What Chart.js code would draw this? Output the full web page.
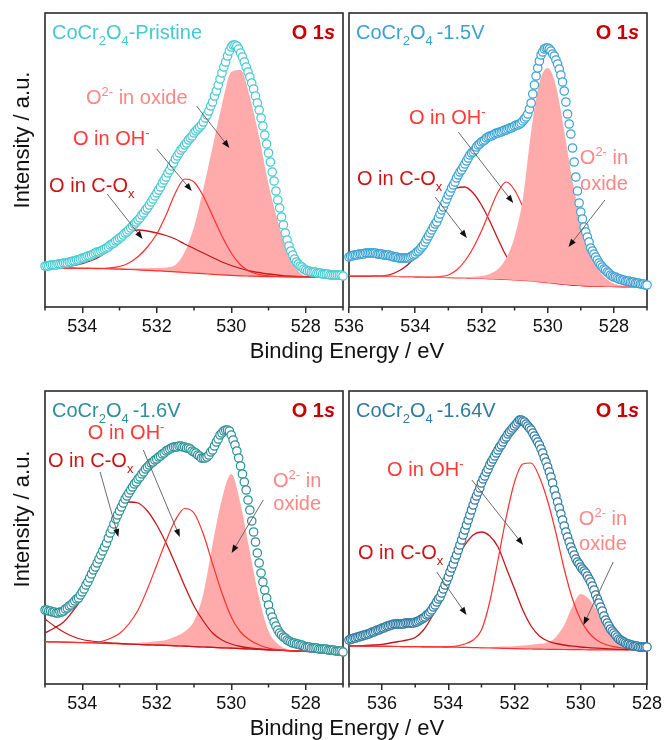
<!DOCTYPE html>
<html>
<head>
<meta charset="utf-8">
<title>O 1s XPS of CoCr2O4</title>
<script src="https://cdn.jsdelivr.net/npm/chart.js@4.4.1/dist/chart.umd.min.js"></script>
<style>
  body { margin: 0; background: #fff; }
  #wrap { position: relative; width: 666px; height: 740px; overflow: hidden;
          font-family: 'Liberation Sans', Arial, Helvetica, sans-serif; color: #111; }
  #wrap canvas { position: absolute; left: 0; top: 0; }
  .xt { position: absolute; left: 347px; transform: translateX(-50%); font-size: 22px;
        line-height: 22px; white-space: nowrap; }
  .yt { position: absolute; left: 22px; transform: translate(-50%, -50%) rotate(-90deg);
        font-size: 22px; line-height: 22px; white-space: nowrap; }
</style>
</head>
<body>
<div id="wrap">
  <canvas id="tl" width="666" height="740"></canvas>
  <canvas id="tr" width="666" height="740"></canvas>
  <canvas id="bl" width="666" height="740"></canvas>
  <canvas id="br" width="666" height="740"></canvas>
  <div class="xt" style="top:340px">Binding Energy / eV</div>
  <div class="xt" style="top:717px">Binding Energy / eV</div>
  <div class="yt" style="top:140px">Intensity / a.u.</div>
  <div class="yt" style="top:519px">Intensity / a.u.</div>
</div>
<script>
// measured spectra: one value every 0.05 eV, starting at the high binding-energy end
// fitted components: one value every 0.25 eV over the same range
const DATA_STEP = 0.05;
const FIT_STEP = 0.25;

// --- pristine, 535 -> 527 eV
const tlCounts = [41,41,41,42,42,42,42,43,43,43,44,44,44,45,45,46,46,47,47,48,49,49,50,51,51,52,53,54,55,55,56,57,58,59,60,62,63,64,66,67,69,
  70,72,74,75,77,79,81,83,85,87,89,92,94,97,99,102,105,108,111,114,117,120,124,127,130,134,137,141,144,148,151,154,157,159,162,164,167,169,171,174,
  176,178,180,182,185,189,192,196,201,205,211,216,222,228,234,240,245,251,256,260,262,262,261,258,254,250,245,240,235,230,224,218,211,204,197,189,181,172,163,154,
  145,135,126,116,107,99,90,82,74,67,61,56,52,48,45,43,41,40,38,37,36,36,35,35,35,34,34,34,33,33,33,33,32,32,32,32,32,32,32,31];
const tlBg = [39,39,38.9,38.8,38.7,38.5,38.3,38.1,37.8,37.5,37.1,36.7,36.2,35.7,35.1,34.5,33.9,33.3,32.7,32.1,31.6,31.2,30.9,30.6,30.4,30.3,30.2,30.1,30.1,30,30,30,30];
const tlCox = [39,39.2,40,41.5,43.5,46.5,51,58.5,66,74.5,77,76,74,71.5,68,63,58.5,54,49.5,45,41.5,38.5,36,34.5,33,32,31,30.5,30.3,30.1,30,30,30];
const tlOh = [39,39,38.9,38.8,38.7,38.6,38.6,39.2,40.5,44,50.5,60,73,92,114,128,125,111,91,71,54,42,35.5,32.5,31.2,30.6,30.3,30.1,30.1,30,30,30,30];
const tlOxide = [39.5,39.5,39.5,39.4,39.3,39.2,39.1,39,38.9,38.8,38.8,38.8,38.9,39.5,42,55,80,118,160,202,235,237,210,170,123,86,56,38,31,30.3,30,30,30];
const tlTicks = [534, 532, 530, 528];

// --- -1.5 V, 536 -> 527 eV
const trCounts = [50,51,51,52,52,52,53,53,53,53,54,54,54,54,54,54,54,53,53,53,53,52,52,52,52,51,51,50,50,50,49,49,49,49,49,49,49,50,51,52,
  53,55,56,58,60,62,65,68,71,74,77,80,83,85,89,93,97,100,104,108,112,115,119,122,125,129,132,135,137,140,143,146,149,152,154,155,157,160,162,163,
  165,166,167,169,170,171,171,172,173,174,174,175,175,176,177,177,178,179,179,180,181,182,182,183,184,186,188,190,193,198,204,213,222,231,239,
  246,252,255,258,259,259,258,256,253,251,247,243,238,232,225,216,205,193,183,173,159,145,130,116,104,95,88,80,75,70,65,59,56,53,50,
  47,44,42,40,38,37,35,34,32,31,30,30,29,28,28,27,27,26,26,26,25,25,25,24,24,24,23,23,23,22,22];
const trBg = [31,31,30.9,30.8,30.7,30.6,30.5,30.4,30.2,30,29.8,29.6,29.4,29.2,29,28.8,28.5,28.2,27.9,27.5,27.1,26.6,26,25.2,24.3,23.4,22.6,22,21.5,21.1,20.8,20.6,20.5,20.4,20.3,20.3,20.3];
const trCox = [31,31,31,31,31.2,32.5,36,41.5,50,62,80,98,112,119,120,114,102,86,68,51,40,33,29,26.5,25,23.8,22.8,22,21.5,21.1,20.8,20.6,20.5,20.4,20.3,20.3,20.3];
const trOh = [31,31,30.9,30.8,30.7,30.6,30.5,30.4,30.2,30,30,30.5,32,37,46,59,76,96,115,125,117,100,78,55,38,29,24.5,22.5,21.6,21.1,20.8,20.6,20.5,20.4,20.3,20.3,20.3];
const trOxide = [31.5,31.5,31.4,31.3,31.2,31.1,31,30.9,30.8,30.6,30.4,30.2,30,29.9,29.9,30.2,31,33,38,49,70,108,175,224,239,221,176,126,86,57,39,29,23.5,21.5,20.7,20.4,20.3];
const trTicks = [536, 534, 532, 530, 528];

// --- -1.6 V, 535 -> 527 eV
const blCounts = [74,74,73,73,72,72,71,71,72,72,73,75,76,78,79,81,83,85,86,89,92,95,99,102,106,110,114,117,121,125,129,133,137,141,146,151,155,160,165,169,
  173,177,181,185,188,191,194,197,200,202,205,207,210,212,215,217,219,221,222,224,225,227,228,230,231,233,234,235,236,237,237,237,238,238,237,
  237,236,236,235,233,232,231,229,228,226,226,226,227,229,232,234,238,242,245,249,251,253,254,254,253,249,244,239,233,226,218,210,202,194,184,
  174,163,152,142,131,121,111,102,94,86,79,72,67,62,58,54,51,49,47,46,44,43,42,41,41,40,40,39,39,38,37,37,37,36,36,36,36,35,35,35,35,35,34,34,34,34,33,33,33,33,32];
const blBg = [42.3,42.1,41.9,41.6,41.3,41,40.7,40.4,40.1,39.8,39.5,39.2,38.9,38.6,38.2,37.8,37.4,37,36.6,36.2,35.8,35.4,35,34.6,34.2,33.8,33.4,33,32.6,32.3,32,31.6,31.3];
const blCox = [51,56,62,73,86,104,127,152,172,182,181,173,159,141,120,98,78,63,51,44,40,37.5,36,35,34.3,33.8,33.4,33,32.6,32.3,32,31.6,31.3];
const blOh = [42.3,42.1,41.9,41.7,41.5,41.5,42.5,45.5,50.5,60,74,95,119,143,164,175.5,171,150,120,91,67,52,44,39,35.8,34.3,33.6,33.1,32.6,32.3,32,31.6,31.3];
const blOxide = [42.5,42.3,42.1,41.9,41.7,41.5,41.3,41.2,41.1,41.1,41.3,41.8,42.8,44,47.5,52.5,63,90,140,185,210,180,132,86,53,40,35,33.2,32.7,32.3,32,31.6,31.3];
const blHighBE = [65,58,52,47.5,44.5,43,42,41.2,40.6,40,39.6,39.2,38.9,38.6,38.2,37.8,37.4,37,36.6,36.2,35.8,35.4,35,34.6,34.2,33.8,33.4,33,32.6,32.3,32,31.6,31.3];
const blTicks = [534, 532, 530, 528];

// --- -1.64 V, 537 -> 528 eV
const brCounts = [44,45,45,46,46,47,47,48,48,49,49,50,50,51,52,52,53,54,54,55,56,56,57,58,58,59,59,60,60,60,60,60,60,60,61,61,61,61,61,61,
  62,62,63,64,65,66,67,69,70,72,74,77,79,82,85,87,91,95,99,103,107,112,116,120,125,129,134,139,144,149,154,159,164,169,174,
  179,184,188,192,196,201,205,208,212,215,219,222,225,228,231,234,237,239,242,245,247,250,252,254,256,258,260,262,264,264,
  263,262,260,258,256,254,251,248,245,242,239,235,231,226,222,217,212,207,201,194,188,182,176,170,164,158,152,147,142,137,
  133,129,125,122,120,117,115,113,111,108,105,102,98,94,89,85,81,77,73,68,64,61,58,55,53,51,49,47,45,44,43,42,41,40,40,39,39,38,38,38,37,37,37,37,37,37];
const brBg = [38,38,37.9,37.8,37.7,37.6,37.5,37.4,37.3,37.2,37.1,37,36.9,36.8,36.6,36.4,36.2,36,35.8,35.6,35.4,35.2,35,34.8,34.7,34.6,34.5,34.4,34.3,34.2,34.2,34.1,34.1,34,34,34,34];
const brCox = [38,38.2,38.5,39,39.7,41,42.5,44,46.5,54,67,84,106,125,139,149,152,148,137,116,95,74,58,48,43,40.5,39,37.8,37,36.4,35.8,35.3,34.9,34.6,34.3,34.1,34];
const brOh = [38,38,37.9,37.8,37.7,37.6,37.5,37.4,37.3,37.2,37.1,37.1,37.2,38,40,44,54,82,124,167,202,220,221,207,183,151,115,85,64,51,43.5,39.5,37.3,36,35,34.4,34];
const brOxide = [38.5,38.5,38.4,38.3,38.2,38.1,38,37.9,37.8,37.7,37.6,37.5,37.4,37.3,37.2,37.1,37.1,37.1,37.2,37.4,37.8,38.4,39.3,40.3,41.5,47,59,78,90,85,73,59,48.5,42,38,36,35];
const brTicks = [536, 534, 532, 530, 528];

const FONT = "'Liberation Sans', Arial, Helvetica, sans-serif";
const RED_DARK = '#c3161c';
const RED = '#ff2e2e';
const PINK_FILL = '#ffabab';
const TXT_COX = '#cc1414';
const TXT_OH = '#ff3838';
const TXT_OXIDE = '#ff8686';
const TXT_O1S = '#c40000';
const AXIS = '#2a2a2a';

function energies(start, step, n) {
  const out = [];
  for (let i = 0; i < n; i++) out.push(Math.round((start - i * step) * 100) / 100);
  return out;
}
function xy(xs, ys) { return ys.map((y, i) => ({ x: xs[i], y: y })); }

function fontFor(mode, size) {
  const small = mode === 'sub' || mode === 'sup';
  const px = small ? Math.round(size * 0.66) : size;
  const style = mode === 'bi' ? 'italic ' : '';
  const weight = (mode === 'b' || mode === 'bi') ? 'bold ' : '';
  return style + weight + px + 'px ' + FONT;
}

// text made of pieces: [text, mode] with mode '', 'sub', 'sup', 'b', 'bi'
function drawRich(ctx, parts, x, y, size, color, align) {
  let w = 0;
  for (const [t, m] of parts) { ctx.font = fontFor(m, size); w += ctx.measureText(t).width; }
  let cx = align === 'center' ? x - w / 2 : align === 'right' ? x - w : x;
  ctx.fillStyle = color;
  ctx.textAlign = 'left';
  ctx.textBaseline = 'alphabetic';
  for (const [t, m] of parts) {
    ctx.font = fontFor(m, size);
    const dy = m === 'sub' ? size * 0.3 : m === 'sup' ? -size * 0.42 : 0;
    ctx.fillText(t, cx, y + dy);
    cx += ctx.measureText(t).width;
  }
}

function arrow(ctx, x1, y1, x2, y2) {
  const a = Math.atan2(y2 - y1, x2 - x1);
  const c = Math.cos(a), s = Math.sin(a);
  ctx.strokeStyle = '#5a5a5a';
  ctx.lineWidth = 0.9;
  ctx.beginPath();
  ctx.moveTo(x1, y1);
  ctx.lineTo(x2 - 6 * c, y2 - 6 * s);
  ctx.stroke();
  ctx.fillStyle = '#111';
  ctx.beginPath();
  ctx.moveTo(x2, y2);
  ctx.lineTo(x2 - 8 * c + 3 * s, y2 - 8 * s - 3 * c);
  ctx.lineTo(x2 - 8 * c - 3 * s, y2 - 8 * s + 3 * c);
  ctx.closePath();
  ctx.fill();
}

const framePlugin = {
  id: 'frame',
  beforeDatasetsDraw(chart) {
    const { ctx, chartArea: a } = chart;
    ctx.save();
    ctx.strokeStyle = AXIS;
    ctx.lineWidth = 1.6;
    ctx.strokeRect(a.left, a.top, a.right - a.left, a.bottom - a.top);
    ctx.restore();
  }
};

function notesPlugin(p) {
  return {
    id: 'notes',
    afterDatasetsDraw(chart) {
      const { ctx, chartArea: a, scales: { x, y } } = chart;
      ctx.save();
      // short unlabeled ticks
      ctx.strokeStyle = AXIS;
      ctx.lineWidth = 1.5;
      for (const t of x.ticks) {
        if (p.ticks.includes(t.value)) continue;
        const px = x.getPixelForValue(t.value);
        ctx.beginPath();
        ctx.moveTo(px, a.bottom);
        ctx.lineTo(px, a.bottom + 3.5);
        ctx.stroke();
      }
      drawRich(ctx, p.title, a.left + 7, a.top + 26, 20, p.color, 'left');
      drawRich(ctx, [['O 1', 'b'], ['s', 'bi']], a.right - 8, a.top + 26, 20, TXT_O1S, 'right');
      for (const n of p.notes) {
        drawRich(ctx, n.parts, x.getPixelForValue(n.x), y.getPixelForValue(n.y) + 7, 20, n.color, n.align || 'left');
      }
      for (const [e1, v1, e2, v2] of p.arrows) {
        arrow(ctx, x.getPixelForValue(e1), y.getPixelForValue(v1), x.getPixelForValue(e2), y.getPixelForValue(v2));
      }
      ctx.restore();
    }
  };
}

function panel(id, p) {
  const dataE = energies(p.start, DATA_STEP, p.counts.length);
  const fitE = energies(p.start, FIT_STEP, p.bg.length);
  const curve = (label, ys, color, width, order) => ({
    label, data: xy(fitE, ys), showLine: true, borderColor: color, borderWidth: width,
    pointRadius: 0, cubicInterpolationMode: 'monotone', fill: false, order
  });
  const datasets = [
    { label: 'measured', data: xy(dataE, p.counts), showLine: false, pointRadius: 4.2,
      pointBorderWidth: 1.2, pointBorderColor: p.color, pointBackgroundColor: '#fff', clip: false, order: 0 },
    curve('background', p.bg, RED, 1.2, 3),
    { label: 'O2- in oxide', data: xy(fitE, p.oxide), showLine: true, borderWidth: 0,
      borderColor: 'rgba(0,0,0,0)', backgroundColor: PINK_FILL, fill: 1, pointRadius: 0,
      cubicInterpolationMode: 'monotone', order: p.fillOnTop ? 1 : 5 },
    curve('O in OH-', p.oh, RED, 1.2, 2),
    curve('O in C-Ox', p.cox, RED_DARK, 1.3, 2)
  ];
  if (p.extra) datasets.push(curve('high BE', p.extra, RED_DARK, 1.2, 2));

  new Chart(document.getElementById(id), {
    type: 'scatter',
    data: { datasets },
    options: {
      responsive: false,
      animation: false,
      devicePixelRatio: 1,
      layout: { padding: p.pad },
      plugins: { legend: { display: false }, tooltip: { enabled: false } },
      scales: {
        x: {
          type: 'linear', reverse: true, min: p.min, max: p.max,
          afterFit: (s) => { s.height = 30; },
          border: { display: false },
          grid: {
            display: true, drawOnChartArea: false, drawTicks: true, tickLength: 6, lineWidth: 1.5,
            tickColor: (c) => (c.tick && p.ticks.includes(c.tick.value)) ? AXIS : 'rgba(0,0,0,0)'
          },
          ticks: {
            stepSize: 1, autoSkip: false, maxRotation: 0, padding: 3, color: '#111',
            font: { family: FONT, size: 18 },
            callback: (v) => p.ticks.includes(v) ? String(v) : ''
          }
        },
        y: { display: false, min: 0, max: p.yMax }
      }
    },
    plugins: [framePlugin, notesPlugin(p)]
  });
}

const lblCox = [['O in C-O'], ['x', 'sub']];
const lblOh = [['O in OH'], ['-', 'sup']];
const lblOxide = [['O'], ['2-', 'sup'], [' in oxide']];
const lblOxideTop = [['O'], ['2-', 'sup'], [' in']];
const lblOxideBottom = [['oxide']];

panel('tl', {
  start: 535, min: 527, max: 535, yMax: 294,
  pad: { left: 45, top: 13, right: 323, bottom: 403 },
  counts: tlCounts, bg: tlBg, cox: tlCox, oh: tlOh, oxide: tlOxide, ticks: tlTicks,
  color: '#45c9d1',
  title: [['CoCr'], ['2', 'sub'], ['O'], ['4', 'sub'], ['-Pristine']],
  notes: [
    { parts: lblOxide, x: 533.9, y: 210, color: TXT_OXIDE },
    { parts: lblOh, x: 534.25, y: 169, color: TXT_OH },
    { parts: lblCox, x: 534.89, y: 122, color: TXT_COX }
  ],
  arrows: [[530.93, 201, 530.05, 159], [532.0, 158, 531.06, 116], [533.33, 113, 532.38, 68]]
});

panel('tr', {
  start: 536, min: 527, max: 536, yMax: 294, fillOnTop: true,
  pad: { left: 349, top: 13, right: 19, bottom: 403 },
  counts: trCounts, bg: trBg, cox: trCox, oh: trOh, oxide: trOxide, ticks: trTicks,
  color: '#3aa2d2',
  title: [['CoCr'], ['2', 'sub'], ['O'], ['4', 'sub'], ['\u2009-1.5V']],
  notes: [
    { parts: lblOh, x: 534.19, y: 190, color: TXT_OH },
    { parts: lblCox, x: 535.76, y: 129, color: TXT_COX },
    { parts: lblOxideTop, x: 528.3, y: 150, color: TXT_OXIDE, align: 'center' },
    { parts: lblOxideBottom, x: 528.3, y: 124, color: TXT_OXIDE, align: 'center' }
  ],
  arrows: [[532.7, 175, 531.04, 104], [533.4, 110, 532.44, 69], [528.27, 107, 529.37, 60]]
});

panel('bl', {
  start: 535, min: 527, max: 535, yMax: 293,
  pad: { left: 45, top: 391, right: 323, bottom: 26 },
  counts: blCounts, bg: blBg, cox: blCox, oh: blOh, oxide: blOxide, extra: blHighBE, ticks: blTicks,
  color: '#2b9098',
  title: [['CoCr'], ['2', 'sub'], ['O'], ['4', 'sub'], ['\u2009-1.6V']],
  notes: [
    { parts: lblOh, x: 533.85, y: 252, color: TXT_OH },
    { parts: lblCox, x: 534.92, y: 224, color: TXT_COX },
    { parts: lblOxideTop, x: 528.23, y: 204, color: TXT_OXIDE, align: 'center' },
    { parts: lblOxideBottom, x: 528.23, y: 181, color: TXT_OXIDE, align: 'center' }
  ],
  arrows: [[533.52, 212, 533.03, 147], [532.36, 234, 531.38, 147], [529.14, 184, 529.99, 131]]
});

panel('br', {
  start: 537, min: 528, max: 537, yMax: 293,
  pad: { left: 349, top: 391, right: 19, bottom: 26 },
  counts: brCounts, bg: brBg, cox: brCox, oh: brOh, oxide: brOxide, ticks: brTicks,
  color: '#2d7ba1',
  title: [['CoCr'], ['2', 'sub'], ['O'], ['4', 'sub'], ['\u2009-1.64V']],
  notes: [
    { parts: lblOh, x: 535.85, y: 215, color: TXT_OH },
    { parts: lblCox, x: 536.73, y: 132, color: TXT_COX },
    { parts: lblOxideTop, x: 529.33, y: 166, color: TXT_OXIDE, align: 'center' },
    { parts: lblOxideBottom, x: 529.33, y: 141, color: TXT_OXIDE, align: 'center' }
  ],
  arrows: [[533.29, 204, 531.74, 139], [534.35, 112, 533.45, 69], [529.02, 122, 529.92, 59]]
});
</script>
</body>
</html>
